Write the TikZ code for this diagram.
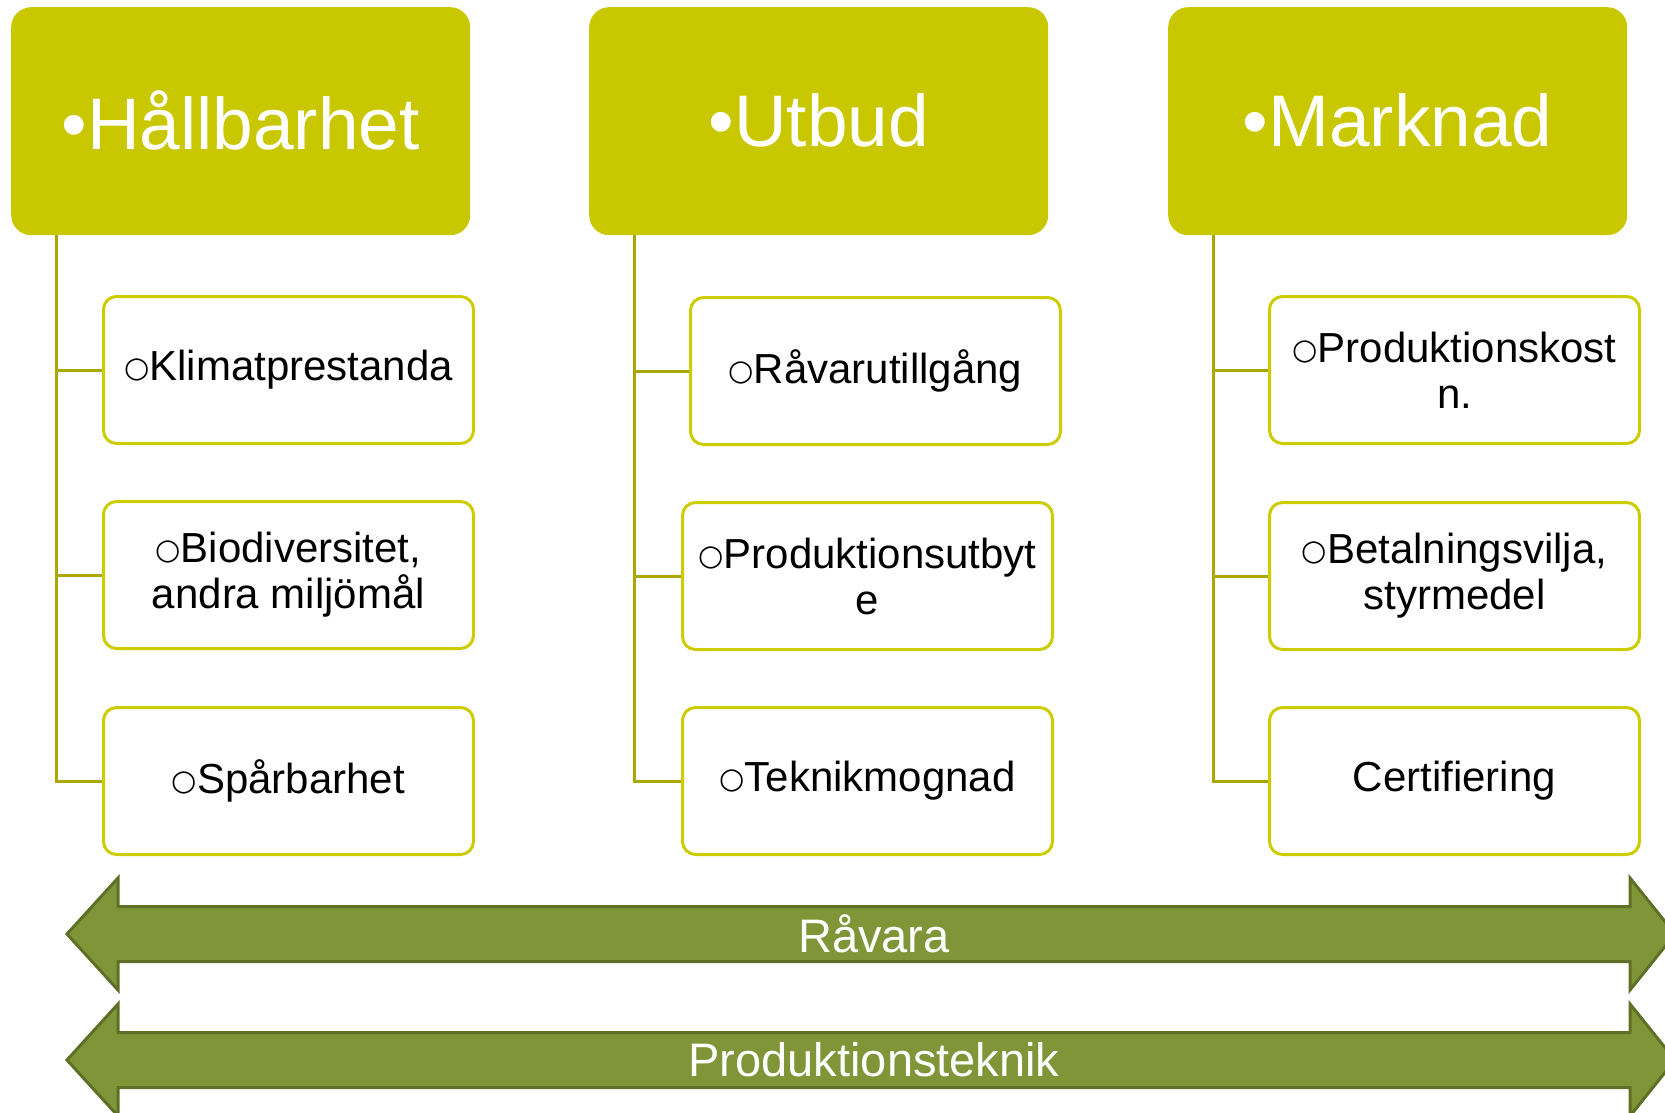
\documentclass[tikz,border=0pt]{standalone}
\usepackage{fontspec}
\setmainfont{Liberation Sans}
\newfontfamily\ringfont{DejaVu Sans}
\usepackage{tikz}
\usetikzlibrary{positioning,calc}

\definecolor{headfill}{HTML}{C9C800}
\definecolor{subline}{HTML}{CCCC00}
\definecolor{connline}{HTML}{AAA700}
\definecolor{arrowfill}{HTML}{809538}
\definecolor{arrowline}{HTML}{5F6F25}

\newcommand{\ring}{\raisebox{3pt}{\ringfont\fontsize{29}{29}\selectfont ○}}

\begin{document}
\begin{tikzpicture}[x=1pt,y=-1pt,
head/.style={rectangle,rounded corners=20pt,fill=headfill,text=white,anchor=north west,
  minimum width=459pt,minimum height=228pt,inner sep=0pt,font=\fontsize{73}{80}\selectfont},
sub/.style={rectangle,rounded corners=13pt,draw=subline,line width=3pt,fill=white,anchor=north west,
  minimum width=370pt,minimum height=147pt,inner sep=0pt,align=center,font=\fontsize{42}{46}\selectfont},
conn/.style={draw=connline,line width=3pt},
band/.style={fill=arrowfill,draw=arrowline,line width=3pt,line join=miter},
bandtext/.style={text=white,font=\fontsize{47}{50}\selectfont}]

\useasboundingbox (0,0) rectangle (1665,1113);
\clip (0,0) rectangle (1665,1113);

% top row
\node[head] (h1) at (11,7) {\raisebox{3pt}{\textbullet Hållbarhet}};
\node[head] (h2) at (589,7) {\raisebox{3pt}{\textbullet Utbud}};
\node[head] (h3) at (1168,7) {\raisebox{3pt}{\textbullet Marknad}};

% children
\node[sub] (k1) at (102,295) {\ring Klimatprestanda};
\node[sub] (k2) at (102,500) {\ring Biodiversitet,\\andra miljömål};
\node[sub] (k3) at (102,706) {\ring Spårbarhet};
\node[sub] (u1) at (689,296) {\ring Råvarutillgång};
\node[sub] (u2) at (681,501) {\ring Produktionsutbyt\\e};
\node[sub] (u3) at (681,706) {\ring Teknikmognad};
\node[sub] (m1) at (1268,295) {\ring Produktionskost\\n.};
\node[sub] (m2) at (1268,501) {\ring Betalningsvilja,\\styrmedel};
\node[sub] (m3) at (1268,706) {Certifiering};

% connectors
\foreach \h/\a/\b/\c in {h1/k1/k2/k3, h2/u1/u2/u3, h3/m1/m2/m3}{
  \coordinate (t\h) at ([xshift=45pt]\h.south west);
  \draw[conn] (t\h) |- (\c.west);
  \draw[conn] (\a.west) -- (\a.west -| t\h);
  \draw[conn] (\b.west) -- (\b.west -| t\h);
}

% double arrows
\foreach \yy/\txt/\nm in {934/Råvara/ravara, 1060/Produktionsteknik/prodtek}{
  \draw[band] (67,\yy) -- (118,\yy-56) -- (118,\yy-27.5) -- (1630,\yy-27.5)
    -- (1630,\yy-56) -- (1675,\yy) -- (1630,\yy+56) -- (1630,\yy+27.5)
    -- (118,\yy+27.5) -- (118,\yy+56) -- cycle;
  \node[bandtext] (\nm) at (874,\yy) {\txt};
}
\end{tikzpicture}
\end{document}
